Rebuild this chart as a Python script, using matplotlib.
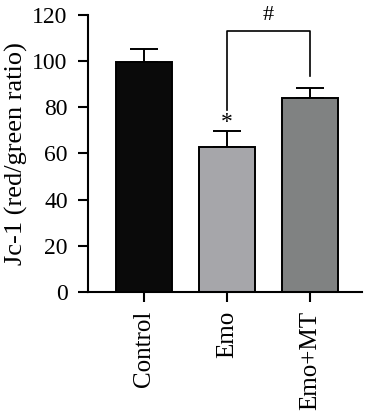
import numpy as np
import matplotlib.pyplot as plt

# Data
groups = ['Control', 'Emo', 'Emo+MT']
means = [99.7, 62.6, 83.8]
errs = [5.4, 6.9, 4.5]
colors = ['#0a0a0a', '#a6a6aa', '#808282']

plt.rcParams['font.family'] = ['Liberation Serif', 'DejaVu Serif']

fig = plt.figure(figsize=(3.66, 4.13), dpi=100)
ax = fig.add_axes([0.240, 0.293, 0.749, 0.671])

x = np.arange(len(groups))
ax.bar(x, means, width=0.67, color=colors, edgecolor='black', linewidth=1.4, zorder=2)
ax.errorbar(x, means, yerr=[np.zeros(len(errs)), errs], fmt='none', ecolor='black',
            elinewidth=1.4, capsize=10, capthick=1.4, zorder=1)

# significance marks
ax.plot([1, 1, 2, 2], [79, 113.2, 113.2, 93.5], color='black', lw=1.2)
ax.text(1.5, 115.5, '#', ha='center', va='bottom', fontsize=16)
ax.text(1, means[1] + errs[1] - 0.5, '*', ha='center', va='bottom', fontsize=17)

ax.set_xlim(-0.675, 2.627)
ax.set_ylim(0, 120)
ax.set_yticks([0, 20, 40, 60, 80, 100, 120])
ax.set_xticks(x)
ax.set_xticklabels(groups, rotation=90)
ax.set_ylabel('Jc-1 (red/green ratio)', fontsize=19, labelpad=3)

for side in ['top', 'right']:
    ax.spines[side].set_visible(False)
for side in ['left', 'bottom']:
    ax.spines[side].set_linewidth(1.5)
ax.tick_params(axis='both', direction='out', length=7.5, width=1.5)
ax.tick_params(axis='y', pad=7, labelsize=17)
ax.tick_params(axis='x', pad=6, labelsize=18)

fig.savefig('out.png', dpi=100)
